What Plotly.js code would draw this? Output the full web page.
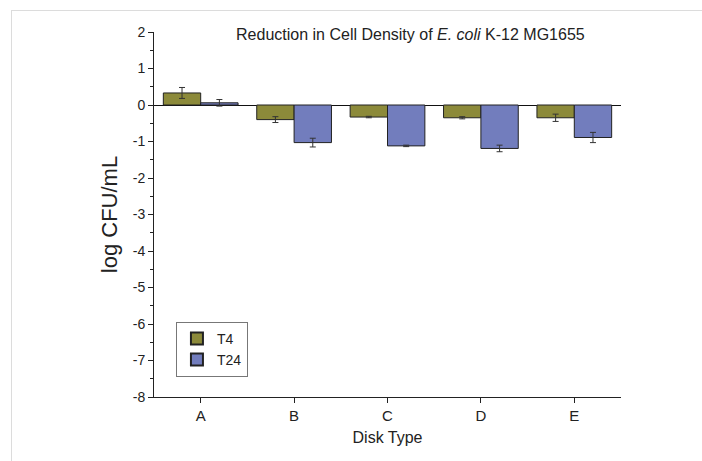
<!DOCTYPE html>
<html>
<head>
<meta charset="utf-8">
<script src="https://cdn.plot.ly/plotly-3.0.1.min.js"></script>
<style>
  html, body { margin: 0; padding: 0; background: #fff; }
  #frame { position: absolute; left: 11px; top: 10px; width: 800px; height: 600px; border: 1px solid #dcdcdc; }
  #chart { position: absolute; left: 0; top: 0; width: 702px; height: 461px; }
</style>
</head>
<body>
<div id="frame"></div>
<div id="chart"></div>
<script>
const categories = ['A', 'B', 'C', 'D', 'E'];
const t4Values  = [0.33, -0.40, -0.33, -0.35, -0.35];
const t4Errors  = [0.15, 0.08, 0.02, 0.03, 0.10];
const t24Values = [0.06, -1.03, -1.12, -1.19, -0.89];
const t24Errors = [0.09, 0.12, 0.02, 0.09, 0.14];
const yTickVals = [-8, -7, -6, -5, -4, -3, -2, -1, 0, 1, 2];
const yTickText = ['-8', '-7', '-6', '-5', '-4', '-3', '-2', '-1', '0', '1', '2'];

const errStyle = { type: 'data', visible: true, color: '#333', thickness: 1, width: 3 };

const traces = [
  {
    type: 'bar', name: 'T4', x: categories, y: t4Values,
    error_y: Object.assign({ array: t4Errors }, errStyle),
    marker: { color: '#8c8a3a', line: { color: '#222', width: 1 } }
  },
  {
    type: 'bar', name: 'T24', x: categories, y: t24Values,
    error_y: Object.assign({ array: t24Errors }, errStyle),
    marker: { color: '#727dbd', line: { color: '#222', width: 1 } }
  }
];

const layout = {
  width: 702, height: 461,
  margin: { l: 154, r: 81, t: 32, b: 64 },
  paper_bgcolor: 'rgba(0,0,0,0)',
  plot_bgcolor: 'rgba(0,0,0,0)',
  font: { family: 'Liberation Sans, Arial, sans-serif', color: '#222', size: 13 },
  barmode: 'group', bargap: 0.2, bargroupgap: 0,
  title: {
    text: 'Reduction in Cell Density of <i>E. coli</i> K-12 MG1655',
    font: { size: 16, color: '#222' },
    xref: 'paper', x: 0.549, xanchor: 'center',
    yref: 'container', y: 0.926, yanchor: 'middle'
  },
  xaxis: {
    type: 'category', range: [-0.5, 4.5],
    showline: true, linecolor: '#222', linewidth: 1,
    ticks: 'outside', ticklen: 5, tickcolor: '#222',
    showgrid: false, zeroline: false,
    tickfont: { size: 15 },
    title: { text: 'Disk Type', font: { size: 16 }, standoff: 8 }
  },
  yaxis: {
    range: [-8, 2],
    tickmode: 'array', tickvals: yTickVals, ticktext: yTickText,
    showline: true, linecolor: '#222', linewidth: 1,
    ticks: 'outside', ticklen: 5, tickcolor: '#222',
    minor: { dtick: 0.5, ticks: 'outside', ticklen: 3, tickcolor: '#222', showgrid: false },
    showgrid: false,
    zeroline: true, zerolinecolor: '#111', zerolinewidth: 1,
    tickfont: { size: 14 },
    title: { text: 'log CFU/mL', font: { size: 22 }, standoff: 9 }
  },
  showlegend: true,
  legend: {
    x: 0.047, y: 0.206, xanchor: 'left', yanchor: 'top',
    bordercolor: '#777', borderwidth: 1, bgcolor: '#fff',
    font: { size: 14 }, tracegroupgap: 0, itemsizing: 'constant'
  }
};

Plotly.newPlot('chart', traces, layout, { displayModeBar: false, staticPlot: true });
</script>
</body>
</html>
